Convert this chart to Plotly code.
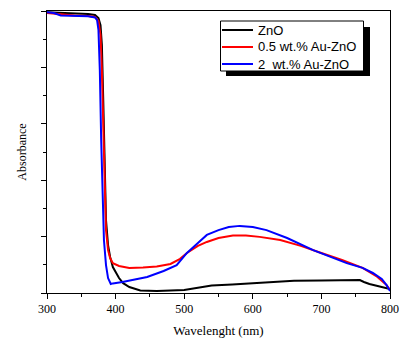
import plotly.graph_objects as go

wl_zno = [300, 310, 320, 340, 360, 370, 375, 378, 380, 382, 384, 386, 389, 392, 396, 400, 405, 411, 420, 436, 460, 500, 520, 540, 570, 600, 630, 660, 700, 730, 756, 762, 770, 785, 800]
abs_zno = [0.996, 0.995, 0.993, 0.991, 0.989, 0.986, 0.975, 0.950, 0.879, 0.684, 0.436, 0.259, 0.170, 0.128, 0.092, 0.074, 0.053, 0.035, 0.021, 0.009, 0.007, 0.011, 0.018, 0.027, 0.030, 0.034, 0.039, 0.043, 0.044, 0.044, 0.046, 0.039, 0.032, 0.023, 0.014]

wl_au05 = [300, 320, 340, 360, 370, 375, 378, 380, 382, 384, 386, 389, 392, 396, 405, 420, 440, 460, 480, 494, 504, 520, 533, 550, 571, 590, 610, 640, 670, 700, 730, 760, 780, 795, 800]
abs_au05 = [0.993, 0.988, 0.984, 0.982, 0.979, 0.965, 0.915, 0.791, 0.578, 0.365, 0.223, 0.152, 0.124, 0.106, 0.096, 0.089, 0.090, 0.094, 0.103, 0.121, 0.142, 0.167, 0.181, 0.195, 0.204, 0.204, 0.199, 0.188, 0.167, 0.142, 0.117, 0.089, 0.060, 0.028, 0.011]

wl_au2 = [300, 310, 320, 340, 360, 370, 373, 375, 377, 379, 381, 383, 386, 389, 393, 396, 410, 430, 446, 470, 489, 500, 504, 520, 533, 550, 565, 581, 600, 620, 650, 688, 710, 737, 760, 775, 788, 795, 800]
abs_au2 = [0.996, 0.993, 0.984, 0.982, 0.981, 0.977, 0.968, 0.933, 0.791, 0.543, 0.330, 0.188, 0.099, 0.053, 0.032, 0.034, 0.039, 0.048, 0.057, 0.078, 0.099, 0.131, 0.142, 0.177, 0.206, 0.223, 0.234, 0.238, 0.234, 0.223, 0.195, 0.152, 0.131, 0.106, 0.089, 0.071, 0.050, 0.028, 0.007]

series_names = ["ZnO", "0.5 wt.% Au-ZnO", "2  wt.% Au-ZnO"]
series_colors = ["black", "#ff0000", "#0000ff"]
x_ticks = [300, 400, 500, 600, 700, 800]

SERIF = "Liberation Serif, Times New Roman, serif"
SANS = "Liberation Sans, Arial, sans-serif"

fig = go.Figure()
for wl, ab, name, col in zip([wl_zno, wl_au05, wl_au2], [abs_zno, abs_au05, abs_au2],
                             series_names, series_colors):
    fig.add_trace(go.Scatter(x=wl, y=ab, mode="lines", name=name,
                             line=dict(color=col, width=2), showlegend=False))

# plot-area pixel geometry
L, R, T, B = 47, 390, 11, 293
W, H = R - L, B - T
def px(x): return (x - L) / W
def py(y): return (B - y) / H

# legend: shadow, box, sample lines, labels
fig.add_shape(type="rect", xref="paper", yref="paper",
              x0=px(226), x1=px(370), y0=py(76), y1=py(27),
              fillcolor="black", line=dict(width=0), layer="above")
fig.add_shape(type="rect", xref="paper", yref="paper",
              x0=px(220.5), x1=px(363.5), y0=py(71), y1=py(21),
              fillcolor="white", line=dict(color="black", width=1), layer="above")
legend_rows = [30, 47, 64]
for row, name, col in zip(legend_rows, series_names, series_colors):
    fig.add_shape(type="line", xref="paper", yref="paper",
                  x0=px(222), x1=px(253), y0=py(row), y1=py(row),
                  line=dict(color=col, width=2), layer="above")
    fig.add_annotation(xref="paper", yref="paper", x=px(256), y=py(row),
                       xanchor="left", yanchor="middle", showarrow=False,
                       text=name.replace("  ", "&nbsp; "),
                       font=dict(family=SANS, size=13, color="black"))

fig.update_layout(
    width=407, height=344,
    margin=dict(l=L, r=407 - R, t=T, b=344 - B, autoexpand=False),
    paper_bgcolor="white", plot_bgcolor="white",
    font=dict(family=SERIF, size=12, color="black"),
    showlegend=False,
    xaxis=dict(range=[300, 800], tickmode="array", tickvals=x_ticks,
               ticks="outside", ticklen=5, tickwidth=1, tickcolor="black",
               showline=True, linecolor="black", linewidth=1, mirror=True,
               showgrid=False, zeroline=False,
               minor=dict(dtick=50, ticks="outside", ticklen=3, tickcolor="black"),
               title=dict(text="Wavelenght (nm)", font=dict(family=SERIF, size=13), standoff=10),
               tickfont=dict(family=SERIF, size=12)),
    yaxis=dict(range=[0, 1.0], dtick=0.2, showticklabels=False,
               ticks="outside", ticklen=5, tickwidth=1, tickcolor="black",
               showline=True, linecolor="black", linewidth=1, mirror=True,
               showgrid=False, zeroline=False,
               minor=dict(dtick=0.1, ticks="outside", ticklen=3, tickcolor="black"),
               title=dict(text="Absorbance", font=dict(family=SERIF, size=12), standoff=11)),
)
fig.write_html("out.html", config={"displayModeBar": False},
               post_script="document.body.style.margin='0';")
